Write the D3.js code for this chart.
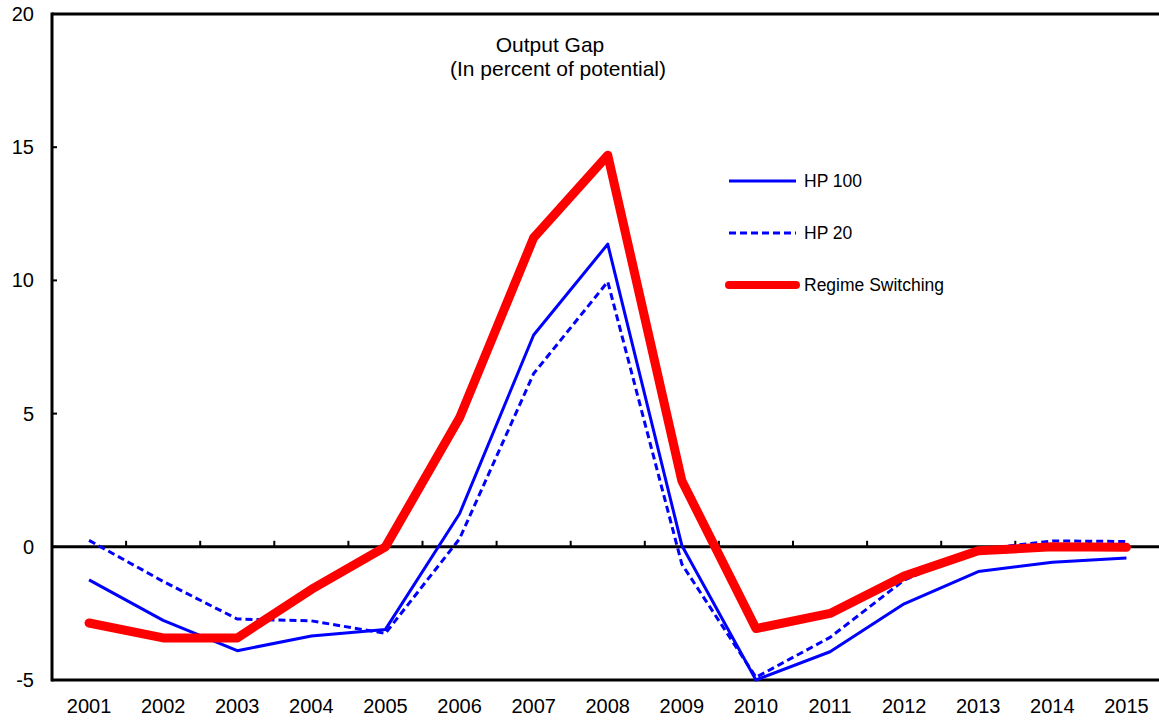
<!DOCTYPE html>
<html><head><meta charset="utf-8">
<script src="https://cdn.jsdelivr.net/npm/d3@7"></script>
<style>body{margin:0;background:#fff;}svg{display:block;font-family:"Liberation Sans",Arial,sans-serif;}</style>
</head><body>
<svg id="c" width="1159" height="721"></svg>
<script>
const years = ["2001","2002","2003","2004","2005","2006","2007","2008","2009","2010","2011","2012","2013","2014","2015"];
const hp100 = [-1.24,-2.76,-3.9,-3.35,-3.1,1.24,7.95,11.36,0.05,-5.0,-3.94,-2.14,-0.93,-0.58,-0.42];
const hp20 = [0.24,-1.3,-2.71,-2.78,-3.25,0.3,6.5,9.95,-0.65,-4.9,-3.4,-1.25,-0.1,0.22,0.2];
const regime = [-2.86,-3.42,-3.42,-1.6,0.0,4.84,11.6,14.7,2.48,-3.07,-2.5,-1.1,-0.15,0.0,-0.02];
const yTicks = [-5,0,5,10,15,20];
const seriesNames = ["HP 100","HP 20","Regime Switching"];

const svg = d3.select("#c");
const L = 52, T = 14, B = 680, R = 1163.5;
const x = d3.scaleBand().domain(years).range([L, R]);
const y = d3.scaleLinear().domain([-5, 20]).range([B, T]);

// frame
svg.append("line").attr("x1", L).attr("x2", 1159).attr("y1", T).attr("y2", T).attr("stroke", "#000").attr("stroke-width", 3);
svg.append("line").attr("x1", L).attr("x2", 1159).attr("y1", B).attr("y2", B).attr("stroke", "#000").attr("stroke-width", 3);
svg.append("line").attr("x1", L).attr("x2", L).attr("y1", T - 1.5).attr("y2", B + 1.5).attr("stroke", "#000").attr("stroke-width", 3);

// y ticks & labels
yTicks.forEach(v => {
  svg.append("line").attr("x1", L).attr("x2", L + 5).attr("y1", y(v)).attr("y2", y(v)).attr("stroke", "#000").attr("stroke-width", 2);
  svg.append("text").attr("x", 34).attr("y", y(v)).attr("dy", "0.35em").attr("text-anchor", "end")
    .attr("font-size", 20).text(v);
});

// zero line with category boundary ticks
svg.append("line").attr("x1", L).attr("x2", 1159).attr("y1", y(0)).attr("y2", y(0)).attr("stroke", "#000").attr("stroke-width", 3);
years.slice(1).forEach(yr => {
  svg.append("line").attr("x1", x(yr)).attr("x2", x(yr)).attr("y1", y(0)).attr("y2", y(0) - 6).attr("stroke", "#000").attr("stroke-width", 2);
});

// x labels
years.forEach(yr => {
  svg.append("text").attr("x", x(yr) + x.bandwidth() / 2).attr("y", 713).attr("text-anchor", "middle")
    .attr("font-size", 20).text(yr);
});

const line = d3.line().x((d, i) => x(years[i]) + x.bandwidth() / 2).y(d => y(d));

svg.append("path").datum(hp20).attr("d", line).attr("fill", "none").attr("stroke", "#0000FF")
  .attr("stroke-width", 3).attr("stroke-dasharray", "7,4");
svg.append("path").datum(hp100).attr("d", line).attr("fill", "none").attr("stroke", "#0000FF")
  .attr("stroke-width", 3).attr("stroke-linejoin", "round");
svg.append("path").datum(regime).attr("d", line).attr("fill", "none").attr("stroke", "#FF0000")
  .attr("stroke-width", 9).attr("stroke-linejoin", "round").attr("stroke-linecap", "round");

// title
svg.append("text").attr("x", 550).attr("y", 52).attr("text-anchor", "middle").attr("font-size", 21).text("Output Gap");
svg.append("text").attr("x", 558).attr("y", 76).attr("text-anchor", "middle").attr("font-size", 21).text("(In percent of potential)");

// legend
const legY = [181, 233, 285];
const styles = [
  {c: "#0000FF", w: 3, dash: null, cap: "butt"},
  {c: "#0000FF", w: 3, dash: "7,4", cap: "butt"},
  {c: "#FF0000", w: 8, dash: null, cap: "round"}
];
seriesNames.forEach((n, i) => {
  const s = styles[i];
  const ln = svg.append("line").attr("x1", 729).attr("x2", 796).attr("y1", legY[i]).attr("y2", legY[i])
    .attr("stroke", s.c).attr("stroke-width", s.w).attr("stroke-linecap", s.cap);
  if (s.dash) ln.attr("stroke-dasharray", s.dash);
  svg.append("text").attr("x", 804).attr("y", legY[i]).attr("dy", "0.35em").attr("font-size", 17.5).text(n);
});
</script>
</body></html>
